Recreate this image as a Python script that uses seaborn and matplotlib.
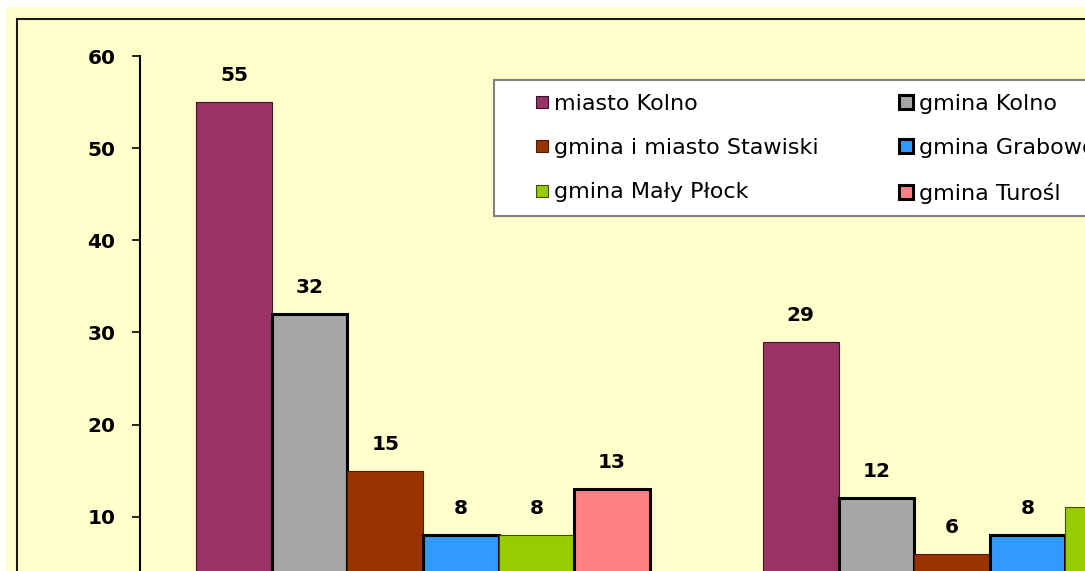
import matplotlib
matplotlib.use("Agg")
import matplotlib.pyplot as plt
from matplotlib.patches import Rectangle
from matplotlib.lines import Line2D
import seaborn as sns
import numpy as np
import pandas as pd

categories = ["kategoria 1", "kategoria 2"]
gminy = ["miasto Kolno", "gmina Kolno", "gmina i miasto Stawiski",
         "gmina Grabowo", "gmina Mały Płock", "gmina Turośl"]
values = {
    "miasto Kolno": [55, 29],
    "gmina Kolno": [32, 12],
    "gmina i miasto Stawiski": [15, 6],
    "gmina Grabowo": [8, 8],
    "gmina Mały Płock": [8, 11],
    "gmina Turośl": [13, np.nan],  # second bar is outside the crop
}
colors = ["#993366", "#A6A6A6", "#993300", "#3399FF", "#99CC00", "#FF8080"]
edge_colors = ["#3a1426", "black", "#4d1a00", "black", "#3d4d00", "black"]
edge_widths = [0.8, 2.2, 0.8, 2.2, 0.8, 2.2]

rows = []
for g in gminy:
    for c, v in zip(categories, values[g]):
        rows.append({"kategoria": c, "gmina": g, "liczba": v})
df = pd.DataFrame(rows)

W, H = 1085, 571
fx = lambda x: x / W
fy = lambda y: 1 - y / H

fig = plt.figure(figsize=(W / 100, H / 100), dpi=100, facecolor="white")

# chart area background + border (cropped on right and bottom)
fig.patches.append(Rectangle((fx(6), -0.3), 1.5, fy(7) + 0.3, transform=fig.transFigure,
                             facecolor="#FFFFCC", edgecolor="none", zorder=-10))
fig.patches.append(Rectangle((fx(16.5), -0.3), 1.5, fy(18.5) + 0.3, transform=fig.transFigure,
                             fill=False, edgecolor="#1a1a1a", lw=1.5, zorder=-9))

ax = fig.add_axes([fx(139.7), fy(608.8), 566.6 * len(categories) / W, (608.8 - 56) / H])
ax.set_facecolor("none")

sns.barplot(data=df, x="kategoria", y="liczba", hue="gmina", hue_order=gminy,
            palette=colors, saturation=1, width=0.8, legend=False, ax=ax)

for cont, ec, lw in zip(ax.containers, edge_colors, edge_widths):
    for bar in cont:
        bar.set_edgecolor(ec)
        bar.set_linewidth(lw)
        h = bar.get_height()
        if np.isfinite(h) and h > 0:
            ax.annotate(f"{h:.0f}", (bar.get_x() + bar.get_width() / 2, h),
                        xytext=(0, 15), textcoords="offset points",
                        ha="center", va="baseline", fontsize=14.5, fontweight="bold")

ax.set_xlim(-0.5, len(categories) - 0.5)
ax.set_ylim(0, 60)
ax.set_yticks([0, 10, 20, 30, 40, 50, 60])
ax.set_xlabel("")
ax.set_ylabel("")
for s in ["top", "right"]:
    ax.spines[s].set_visible(False)
ax.spines["left"].set_linewidth(1.5)
ax.spines["bottom"].set_linewidth(1.5)
ax.tick_params(axis="y", length=5.6, width=1.2, pad=12, labelsize=14.5)
ax.tick_params(axis="x", length=0, labelbottom=False)
for lab in ax.get_yticklabels():
    lab.set_fontweight("bold")

# legend frame (extends past the crop)
fig.patches.append(Rectangle((fx(494), fy(215.7)), 1.0, (215.7 - 80) / H, transform=fig.transFigure,
                             facecolor="white", edgecolor="#808080", lw=1.5, zorder=4))

handles = []
for col, ec, lw in zip(colors, edge_colors, edge_widths):
    thick = lw > 1
    handles.append(Line2D([], [], marker="s", linestyle="none",
                          markersize=9.4 if thick else 9.2,
                          markerfacecolor=col, markeredgecolor=ec,
                          markeredgewidth=2.2 if thick else 0.8))
order = [0, 2, 4, 1, 3, 5]
fig.legend([handles[i] for i in order], [gminy[i] for i in order], ncol=2,
           loc="upper left", bbox_to_anchor=(fx(534), fy(94)), bbox_transform=fig.transFigure,
           frameon=False, borderpad=0, borderaxespad=0, handlelength=0.7, handleheight=0.7,
           handletextpad=0.2, columnspacing=3.6, labelspacing=1.09, prop={"size": 16})

fig.savefig("out.png", dpi=100, facecolor="white")
